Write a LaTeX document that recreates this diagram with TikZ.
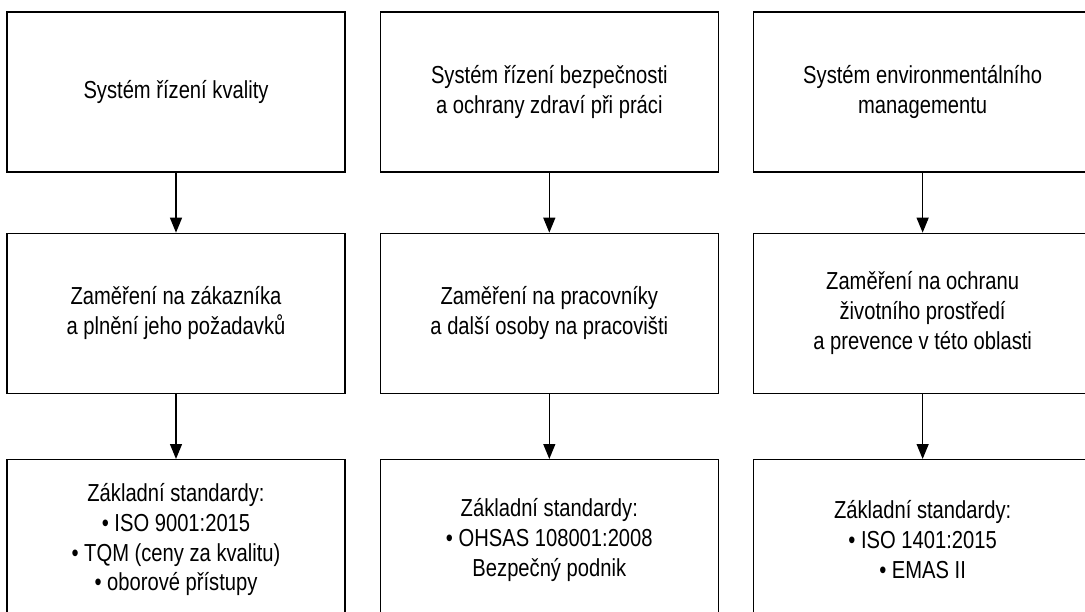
\documentclass[tikz,border=0pt]{standalone}
\usepackage{fontspec}
\setmainfont[FakeStretch=0.82]{Liberation Sans}
\usetikzlibrary{arrows.meta,positioning}

\begin{document}
\begin{tikzpicture}[
  sysbox/.style={
    draw,
    line width=0.75pt,
    minimum width=6.76cm,
    minimum height=3.2cm,
    inner sep=0pt,
    align=center,
    font=\fontsize{14}{17}\selectfont
  },
  arrow/.style={-{Triangle[length=8.5pt,width=6.8pt]},line width=0.75pt}
]
  \clip (0,0) rectangle (21.7,-12.24);
  % top row: the three systems
  \node[sysbox] (quality) at (3.52,-1.84) {Systém řízení kvality};
  \node[sysbox,right=0.68cm of quality] (safety) {Systém řízení bezpečnosti\\a ochrany zdraví při práci};
  \node[sysbox,right=0.68cm of safety] (environ) {Systém environmentálního\\managementu};
  % middle row: focus
  \node[sysbox,below=1.2cm of quality] (customer) {Zaměření na zákazníka\\a plnění jeho požadavků};
  \node[sysbox,below=1.2cm of safety] (workers) {Zaměření na pracovníky\\a další osoby na pracovišti};
  \node[sysbox,below=1.2cm of environ] (nature) {Zaměření na ochranu\\životního prostředí\\a prevence v této oblasti};
  % bottom row: standards
  \node[sysbox,below=1.3cm of customer] (qualityStd) {Základní standardy:\\• ISO 9001:2015\\• TQM (ceny za kvalitu)\\• oborové přístupy};
  \node[sysbox,below=1.3cm of workers] (safetyStd) {Základní standardy:\\• OHSAS 108001:2008\\Bezpečný podnik};
  \node[sysbox,below=1.3cm of nature] (environStd) {Základní standardy:\\• ISO 1401:2015\\• EMAS II};
  \draw[arrow] (quality) -- (customer);
  \draw[arrow] (safety) -- (workers);
  \draw[arrow] (environ) -- (nature);
  \draw[arrow] (customer) -- (qualityStd);
  \draw[arrow] (workers) -- (safetyStd);
  \draw[arrow] (nature) -- (environStd);
\end{tikzpicture}
\end{document}
